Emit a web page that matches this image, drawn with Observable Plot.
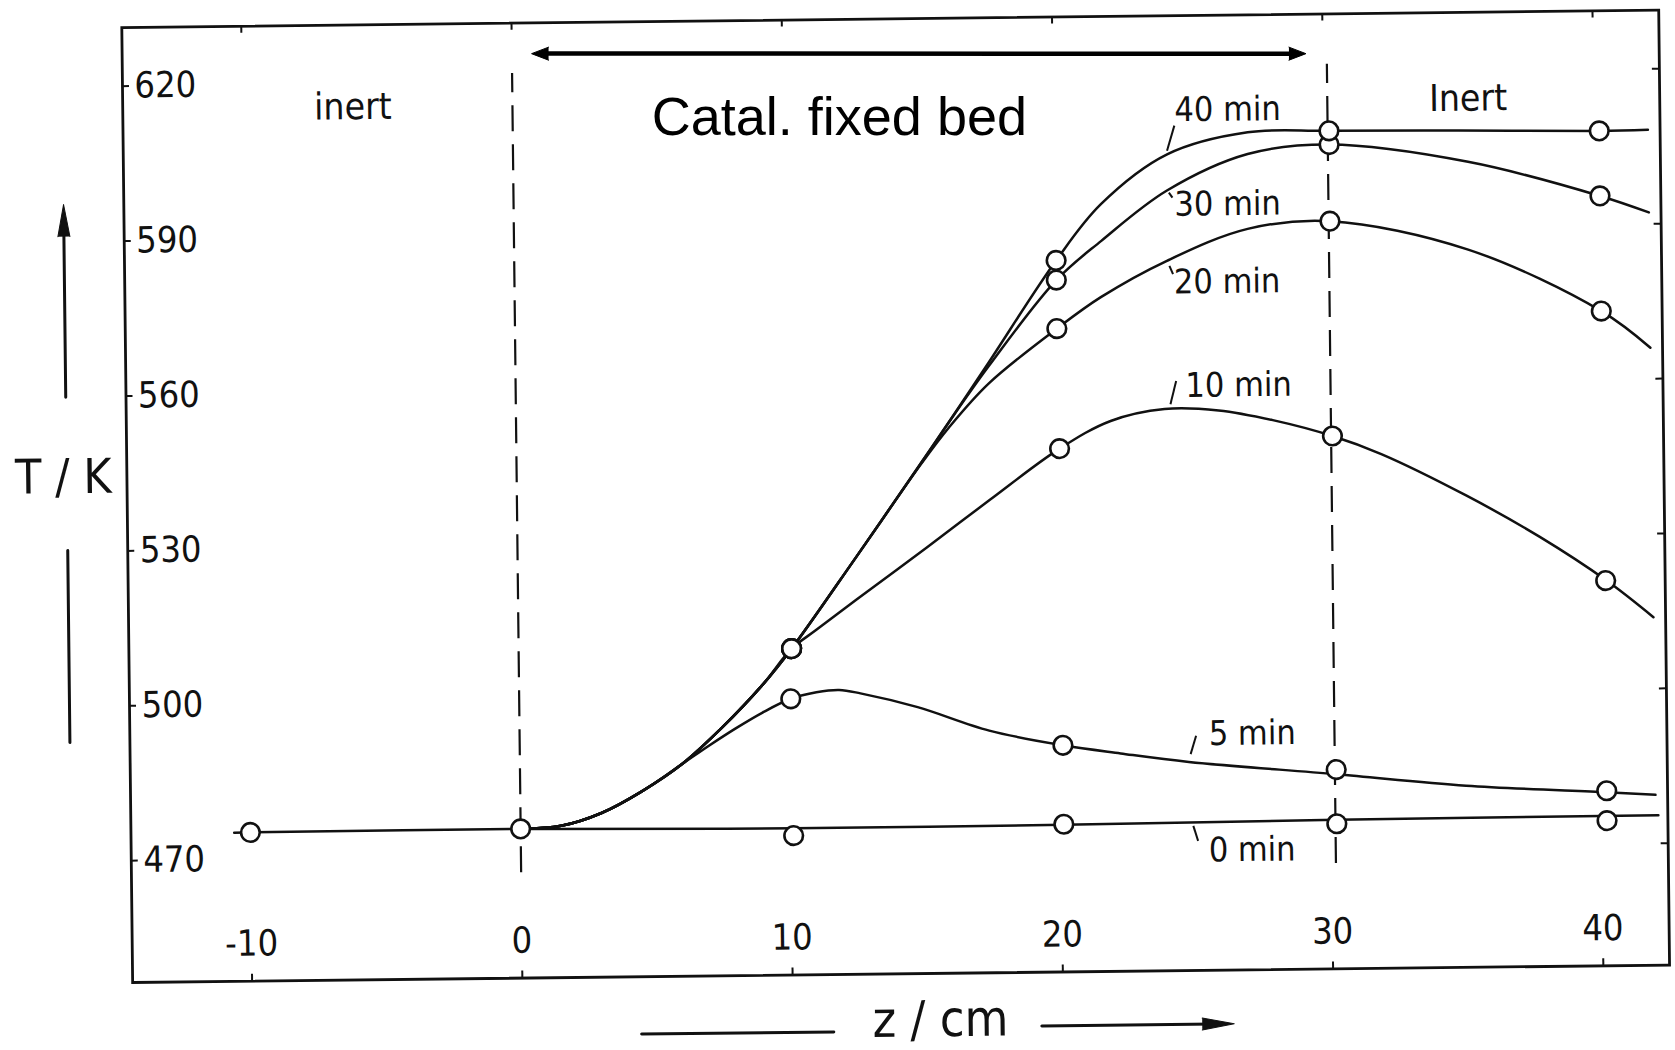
<!DOCTYPE html>
<html><head><meta charset="utf-8">
<script src="https://cdn.jsdelivr.net/npm/d3@7"></script>
<script src="https://cdn.jsdelivr.net/npm/@observablehq/plot@0.6"></script>
<style>
html,body{margin:0;padding:0;background:#fff;}
#chart{width:1675px;height:1050px;overflow:hidden;background:#fff;}
#chart svg{display:block;transform:rotate(-0.65deg);transform-origin:837.5px 525px;}
#chart svg text{font-stretch:condensed;}
</style></head><body><div id="chart"></div>
<script>
// ---------------- data ----------------
const xTicks = [-10, 0, 10, 20, 30, 40];
const yTicks = [470, 500, 530, 560, 590, 620];
const xDomain = [-14.42, 42.45];
const yDomain = [446.4, 631.35];

// measured points (circles)
const pts0Z = [-10, 0, 10.1, 20.1, 30.2, 40.2];
const pts0T = [475.2, 475.3, 473.4, 475.0, 474.5, 474.5];
const pts5Z = [10.05, 20.1, 30.2, 40.2];
const pts5T = [499.9, 490.3, 485.0, 480.3];
const pts10Z = [10.1, 20.1, 30.2, 40.25];
const pts10T = [509.6, 547.75, 549.6, 521.0];
const pts20Z = [10.1, 20.05, 30.2, 40.2];
const pts20T = [509.6, 571.0, 591.2, 573.2];
const pts30Z = [10.1, 20.05, 30.2, 40.2];
const pts30T = [509.6, 580.4, 606.05, 595.5];
const pts40Z = [10.1, 20.05, 30.2, 40.2];
const pts40T = [509.6, 584.2, 608.7, 608.1];

// drawn curves
const curve0Z = [-10.6, 0, 10.1, 20.1, 30.2, 42.1];
const curve0T = [475.2, 475.3, 474.8, 474.9, 475.3, 475.45];
const riseZ = [0, 1.5, 3, 4.5, 6];
const riseT = [475.3, 475.8, 478.2, 482.3, 487.5];
const upperRiseZ = [7.5, 9, 10.1];
const upperRiseT = [494.5, 502.6, 509.6];
const curve5Z = [7.0, 8.0, 9.0, 10.05, 11.0, 11.84, 12.63, 14.74, 17.38, 20.1, 22.23, 24.75, 30.2, 35.0, 40.2, 42.0];
const curve5T = [491.0, 494.3, 497.3, 499.9, 501.1, 501.5, 500.8, 498.0, 493.3, 490.3, 488.6, 486.8, 484.1, 481.6, 480.0, 479.4];
const curve10Z = [11.0, 12.5, 15.17, 17.5, 20.1, 22.0, 24.0, 26.0, 28.0, 30.2, 32.0, 35.12, 37.83, 40.28, 42.0];
const curve10T = [513.1, 518.9, 529.0, 538.0, 547.75, 553.0, 555.2, 554.8, 552.8, 549.6, 546.0, 537.8, 529.6, 521.0, 513.8];
const curve20Z = [12.5, 15.0, 16.0, 17.5, 20.05, 21.69, 24.15, 27.15, 30.2, 35.3, 40.2, 42.0];
const curve20T = [527.0, 545.3, 552.0, 560.5, 571.0, 577.0, 583.9, 589.9, 591.2, 585.4, 573.2, 566.0];
const curve30Z = [12.5, 15.0, 16.0, 17.5, 20.05, 21.73, 24.18, 27.18, 30.2, 35.33, 40.2, 42.0];
const curve30T = [527.0, 545.5, 553.0, 563.8, 580.4, 587.9, 597.5, 604.4, 606.05, 602.4, 595.5, 592.2];
const curve40Z = [12.5, 15.0, 16.0, 17.5, 20.05, 21.73, 24.2, 27.19, 30.2, 35.0, 40.2, 42.0];
const curve40T = [527.0, 545.5, 553.0, 564.5, 584.2, 595.0, 604.5, 608.6, 608.7, 608.5, 608.1, 608.2];

// curve labels and their leader strokes
const curveLabelText = ["40 min", "30 min", "20 min", "10 min", "5 min", "0 min"];
const curveLabelZ = [24.49, 24.45, 24.4, 24.78, 25.5, 25.45];
const curveLabelT = [613.0, 594.7, 579.65, 559.6, 492.15, 469.6];
const leaderZ1 = [24.2, 24.25, 24.24, 24.22, 24.82, 24.89];
const leaderT1 = [605.2, 597.1, 582.9, 556.1, 488.3, 474.4];
const leaderZ2 = [24.48, 24.38, 24.37, 24.44, 25.03, 25.06];
const leaderT2 = [610.05, 596.1, 581.3, 560.6, 491.85, 471.5];

// zones
const zoneText = ["inert", "Inert"];
const zoneZ = [-5.9, 35.36];
const zoneT = [615.4, 614.6];
const bedEdgeZ = [0, 30.15];
const bedEdgeT = [466.8, 621.6];
const bedText = "Catal. fixed bed";
const bedTextZ = 12.09, bedTextT = 612.3;
const bedArrowZ = [0.73, 29.38];
const bedArrowT = [625.4, 623.7];

// axis titles
const yTitle = "T / K";
const yTitleZ = -16.77, yTitleT = 544.3;
const yArrowZ = -16.65, yArrowT = [559.9, 597.2];
const yStemZ = -16.64, yStemT = [530.2, 493.0];
const xTitle = "z / cm";
const xTitleZ = 15.45, xTitleT = 437.3;
const xStemZ = [4.39, 11.5], xStemT = 435.3;
const xArrowZ = [19.2, 26.32], xArrowT = 436.0;

// ---------------- build tables ----------------
const rows = (series, zs, ts) => zs.map((z, i) => ({series, z, T: ts[i]}));
const curveRows = [
  ...rows("0 min", curve0Z, curve0T),
  ...rows("5 min", riseZ.concat(curve5Z), riseT.concat(curve5T)),
  ...rows("10 min", riseZ.concat(upperRiseZ, curve10Z), riseT.concat(upperRiseT, curve10T)),
  ...rows("20 min", riseZ.concat(upperRiseZ, curve20Z), riseT.concat(upperRiseT, curve20T)),
  ...rows("30 min", riseZ.concat(upperRiseZ, curve30Z), riseT.concat(upperRiseT, curve30T)),
  ...rows("40 min", riseZ.concat(upperRiseZ, curve40Z), riseT.concat(upperRiseT, curve40T))
];
const pointRows = [
  ...rows("0 min", pts0Z, pts0T), ...rows("5 min", pts5Z, pts5T),
  ...rows("10 min", pts10Z, pts10T), ...rows("20 min", pts20Z, pts20T),
  ...rows("30 min", pts30Z, pts30T), ...rows("40 min", pts40Z, pts40T)
];
const labelRows = curveLabelText.map((t, i) => ({t, z: curveLabelZ[i], T: curveLabelT[i]}));
const leaderRows = leaderZ1.map((z, i) => ({z1: z, T1: leaderT1[i], z2: leaderZ2[i], T2: leaderT2[i]}));
const zoneRows = zoneText.map((t, i) => ({t, z: zoneZ[i], T: zoneT[i]}));

// pixel sizes -> data units (for short tick marks / arrow insets)
const W = 1675, H = 1050, mL = 127, mR = 11, mT = 19, mB = 76;
const pxX = (W - mL - mR) / (xDomain[1] - xDomain[0]);
const pxY = (H - mT - mB) / (yDomain[1] - yDomain[0]);
const tickX = 7 / pxX, tickY = 7 / pxY;

const ink = "#111";
const fontMain = "'DejaVu Sans Condensed', 'DejaVu Sans', sans-serif";

const chart = Plot.plot({
  width: W, height: H,
  marginLeft: mL, marginRight: mR, marginTop: mT, marginBottom: mB,
  x: {domain: xDomain, axis: null},
  y: {domain: yDomain, axis: null},
  style: {fontFamily: fontMain, background: "white", overflow: "visible", color: ink},
  marks: [
    Plot.frame({stroke: ink, strokeWidth: 2.8}),
    // ticks: bottom, top, left, right (pointing inward)
    Plot.ruleX(xTicks, {x: d => d, y1: yDomain[0], y2: yDomain[0] + tickY, stroke: ink, strokeWidth: 2}),
    Plot.ruleX(xTicks, {x: d => d, y1: yDomain[1], y2: yDomain[1] - tickY, stroke: ink, strokeWidth: 2}),
    Plot.ruleY(yTicks, {y: d => d, x1: xDomain[0], x2: xDomain[0] + tickX, stroke: ink, strokeWidth: 2}),
    Plot.ruleY(yTicks, {y: d => d, x1: xDomain[1], x2: xDomain[1] - tickX, stroke: ink, strokeWidth: 2}),
    // tick labels inside the frame
    Plot.text(xTicks, {x: d => d, frameAnchor: "bottom", dy: -25.5, text: d => String(d), fontSize: 36, fill: ink}),
    Plot.text(yTicks, {y: d => d, frameAnchor: "left", dx: 12, textAnchor: "start", text: d => String(d), fontSize: 36, fill: ink}),
    // bed boundaries
    Plot.ruleX(bedEdgeZ, {x: d => d, y1: bedEdgeT[0], y2: bedEdgeT[1], stroke: ink, strokeWidth: 2.2, strokeDasharray: "26,13"}),
    // curves
    Plot.line(curveRows, {x: "z", y: "T", z: "series", curve: "catmull-rom", stroke: ink, strokeWidth: 2.5}),
    Plot.dot(pointRows, {x: "z", y: "T", r: 9.3, fill: "white", stroke: ink, strokeWidth: 2.6}),
    // curve labels + leader strokes
    Plot.link(leaderRows, {x1: "z1", y1: "T1", x2: "z2", y2: "T2", stroke: ink, strokeWidth: 2}),
    Plot.text(labelRows, {x: "z", y: "T", text: "t", textAnchor: "start", fontSize: 34, fill: ink}),
    // zone labels
    Plot.text(zoneRows, {x: "z", y: "T", text: "t", fontSize: 37, fill: ink}),
    // catalytic bed arrow and caption (digital overlay, kept horizontal)
    Plot.line([0, 1], {x: i => bedArrowZ[i] + (i === 0 ? 0.45 : -0.45), y: i => bedArrowT[i], stroke: "#000", strokeWidth: 4.5}),
    Plot.vector([0, 1], {x: i => bedArrowZ[i], y: i => bedArrowT[i], rotate: i => (i === 0 ? -90 : 90) + 0.65,
      shape: "spike", length: 17, r: 6.5, anchor: "end", fill: "#000", stroke: "#000", strokeWidth: 1}),
    Plot.text([bedText], {x: bedTextZ, y: bedTextT, text: d => d, fontSize: 54, rotate: 0.65,
      fontFamily: "'Liberation Sans', Arial, Helvetica, sans-serif", fill: "#000"}),
    // y title with arrow
    Plot.text([yTitle], {x: yTitleZ, y: yTitleT, text: d => d, fontSize: 48, fill: ink}),
    Plot.line([0, 1], {x: yArrowZ, y: i => yArrowT[0] + i * (yArrowT[1] - yArrowT[0] - 20 / pxY), stroke: ink, strokeWidth: 3}),
    Plot.vector([0], {x: yArrowZ, y: yArrowT[1], rotate: 0, shape: "spike", length: 32, r: 6, anchor: "end", fill: ink, stroke: ink, strokeWidth: 1}),
    Plot.line([0, 1], {x: yStemZ, y: i => yStemT[i], stroke: ink, strokeWidth: 3}),
    // x title with arrow
    Plot.text([xTitle], {x: xTitleZ, y: xTitleT, text: d => d, fontSize: 50, fill: ink}),
    Plot.line([0, 1], {x: i => xStemZ[i], y: xStemT, stroke: ink, strokeWidth: 3}),
    Plot.line([0, 1], {x: i => xArrowZ[0] + i * (xArrowZ[1] - xArrowZ[0] - 20 / pxX), y: xArrowT, stroke: ink, strokeWidth: 3}),
    Plot.vector([0], {x: xArrowZ[1], y: xArrowT, rotate: 90, shape: "spike", length: 32, r: 6, anchor: "end", fill: ink, stroke: ink, strokeWidth: 1})
  ]
});
document.getElementById("chart").appendChild(chart);
</script>
</body></html>
